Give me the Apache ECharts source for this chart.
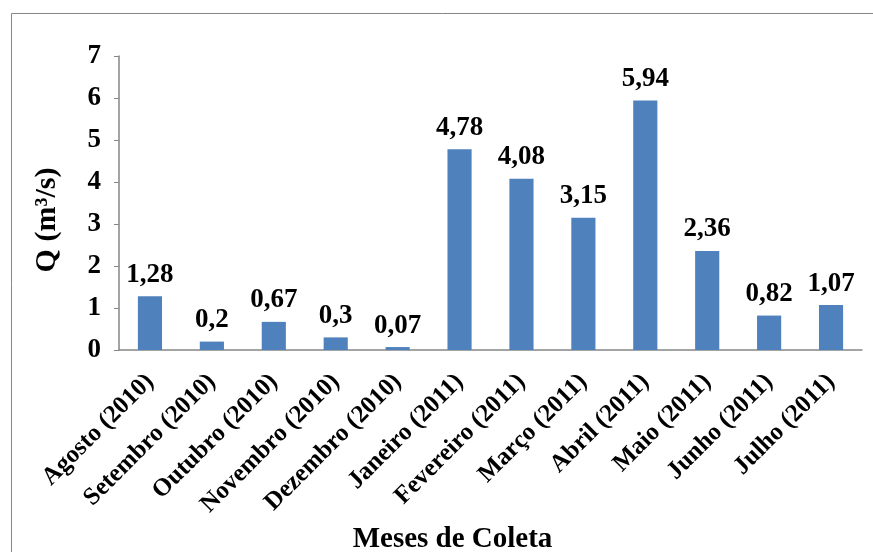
<!DOCTYPE html>
<html lang="pt-BR">
<head>
<meta charset="UTF-8">
<title>Vazão mensal</title>
<script src="https://cdn.jsdelivr.net/npm/echarts@6/dist/echarts.min.js"></script>
<style>
  html, body { margin: 0; padding: 0; background: #fff; }
  #chart { width: 873px; height: 552px; }
</style>
</head>
<body>
<div id="chart"></div>
<script>
// dados
const meses = ['Agosto (2010)', 'Setembro (2010)', 'Outubro (2010)', 'Novembro (2010)', 'Dezembro (2010)',
  'Janeiro (2011)', 'Fevereiro (2011)', 'Março (2011)', 'Abril (2011)', 'Maio (2011)', 'Junho (2011)', 'Julho (2011)'];
const vazao = [1.28, 0.2, 0.67, 0.3, 0.07, 4.78, 4.08, 3.15, 5.94, 2.36, 0.82, 1.07];

const fonte = 'Liberation Serif, Times New Roman, serif';
const chart = echarts.init(document.getElementById('chart'));

chart.setOption({
  animation: false,
  textStyle: { fontFamily: fonte },
  // moldura da área do gráfico
  graphic: [{
    type: 'rect',
    shape: { x: 11.5, y: 13.5, width: 900, height: 600 },
    style: { fill: 'none', stroke: '#868686', lineWidth: 1 }
  }],
  grid: { left: 119, right: 11, top: 56, bottom: 202, outerBoundsMode: 'none' },
  xAxis: {
    type: 'category',
    data: meses,
    name: 'Meses de Coleta',
    nameLocation: 'middle',
    nameGap: 172,
    nameTextStyle: { fontFamily: fonte, fontWeight: 'bold', fontSize: 29, color: '#000', padding: [0, 76, 0, 0] },
    axisLine: { lineStyle: { color: '#868686', width: 1.5 } },
    axisTick: { show: false },
    axisLabel: {
      rotate: 45, interval: 0, margin: 28,
      fontFamily: fonte, fontWeight: 'bold', fontSize: 25, color: '#000'
    }
  },
  yAxis: {
    type: 'value',
    min: 0, max: 7, interval: 1,
    name: 'Q (m³/s)',
    nameLocation: 'middle',
    nameGap: 57,
    nameTextStyle: { fontFamily: fonte, fontWeight: 'bold', fontSize: 30, color: '#000', padding: [0, 34, 0, 0] },
    axisLine: { show: true, lineStyle: { color: '#868686', width: 1.5 } },
    axisTick: { show: true, length: 5, lineStyle: { color: '#868686' } },
    splitLine: { show: false },
    axisLabel: { margin: 18, fontFamily: fonte, fontWeight: 'bold', fontSize: 27, color: '#000' }
  },
  series: [{
    type: 'bar',
    data: vazao,
    barWidth: '39%',
    itemStyle: { color: '#4f81bd' },
    label: {
      show: true,
      position: 'top',
      distance: 8,
      fontFamily: fonte, fontWeight: 'bold', fontSize: 27, color: '#000',
      formatter: p => String(p.value).replace('.', ',')
    }
  }]
});
</script>
</body>
</html>
